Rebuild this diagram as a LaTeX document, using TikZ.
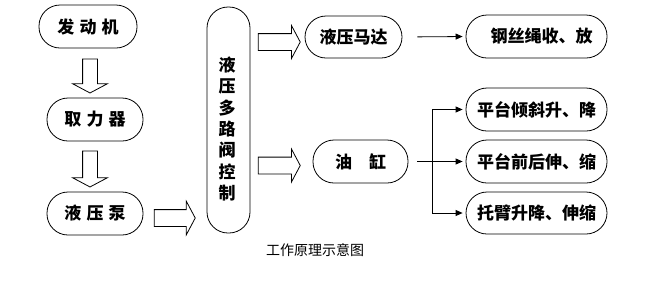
\documentclass[tikz,border=0pt]{standalone}
\usepackage{fontspec}
\setmainfont{Noto Sans CJK SC}
\usetikzlibrary{shapes.arrows,arrows.meta}
\begin{document}
\begin{tikzpicture}[x=1pt,y=-1pt,
  stad/.style={draw,line width=0.8pt,rounded corners=21pt,inner sep=0pt,
    font=\fontsize{17}{20}\selectfont\bfseries},
  blk/.style={draw,line width=0.8pt,single arrow,single arrow tip angle=124,
    single arrow head indent=0pt,anchor=center},
  thin/.style={line width=0.8pt,-{Triangle[length=7pt,width=6pt]}}]
\useasboundingbox (0,0) rectangle (660,285);
% boxes
\node[stad,minimum width=98pt,minimum height=43pt] (eng) at (88,26.5) {发\hspace{0.3em}动\hspace{0.3em}机};
\node[stad,minimum width=96pt,minimum height=43pt] (pto) at (95,119.5) {取\hspace{0.3em}力\hspace{0.3em}器};
\node[stad,minimum width=96pt,minimum height=43pt] (pump) at (95,213.5) {液\hspace{0.3em}压\hspace{0.3em}泵};
\node[stad,minimum width=43pt,minimum height=226pt] (valve) at (228.5,120) {};
\node[font=\fontsize{17}{21.3}\selectfont\bfseries,align=center,inner sep=0pt] (valvetxt) at (227,129) {液\\压\\多\\路\\阀\\控\\制};
\node[stad,minimum width=97pt,minimum height=42pt] (motor) at (353.5,37) {液压马达};
\node[stad,minimum width=141pt,minimum height=43pt] (rope) at (536.5,36.5) {\hspace{0.6em}钢丝绳收、放};
\node[stad,minimum width=95pt,minimum height=43pt] (cyl) at (360.5,161.5) {油\hspace{1em}缸};
\node[stad,minimum width=141pt,minimum height=43pt] (p1) at (536.5,109.5) {平台倾斜升、降};
\node[stad,minimum width=141pt,minimum height=43pt] (p2) at (536.5,161.5) {平台前后伸、缩};
\node[stad,minimum width=141pt,minimum height=42pt] (p3) at (536.5,213) {托臂升降、伸缩};
\node[font=\fontsize{14}{16}\selectfont,inner sep=0pt] (cap) at (315,250) {工作原理示意图};
% block arrows
\node[blk,shape border rotate=270,inner xsep=7pt,inner ysep=0pt,single arrow head extend=10pt,minimum height=34pt] (a1) at (90,74) {};
\node[blk,shape border rotate=270,inner xsep=7pt,inner ysep=0pt,single arrow head extend=10pt,minimum height=36pt] (a2) at (90,167) {};
\node[blk,inner xsep=0pt,inner ysep=8pt,single arrow head extend=8.5pt,minimum height=41pt] (a3) at (172.5,218) {};
\node[blk,inner xsep=0pt,inner ysep=8pt,single arrow head extend=8pt,minimum height=42pt] (a4) at (277,42) {};
\node[blk,inner xsep=0pt,inner ysep=8pt,single arrow head extend=8pt,minimum height=42pt] (a5) at (277,165.5) {};
% thin arrows
\draw[thin,shorten <=15pt,shorten >=3pt] (motor.east) -- (rope.west);
\coordinate (j) at (432,161.5);
\draw[thin,shorten <=9pt,shorten >=3pt] (cyl.east) -- (p2.west);
\draw[thin,shorten >=3pt] (j) |- (p1.west);
\draw[thin,shorten >=3pt] (j) |- (p3.west);
\end{tikzpicture}
\end{document}
